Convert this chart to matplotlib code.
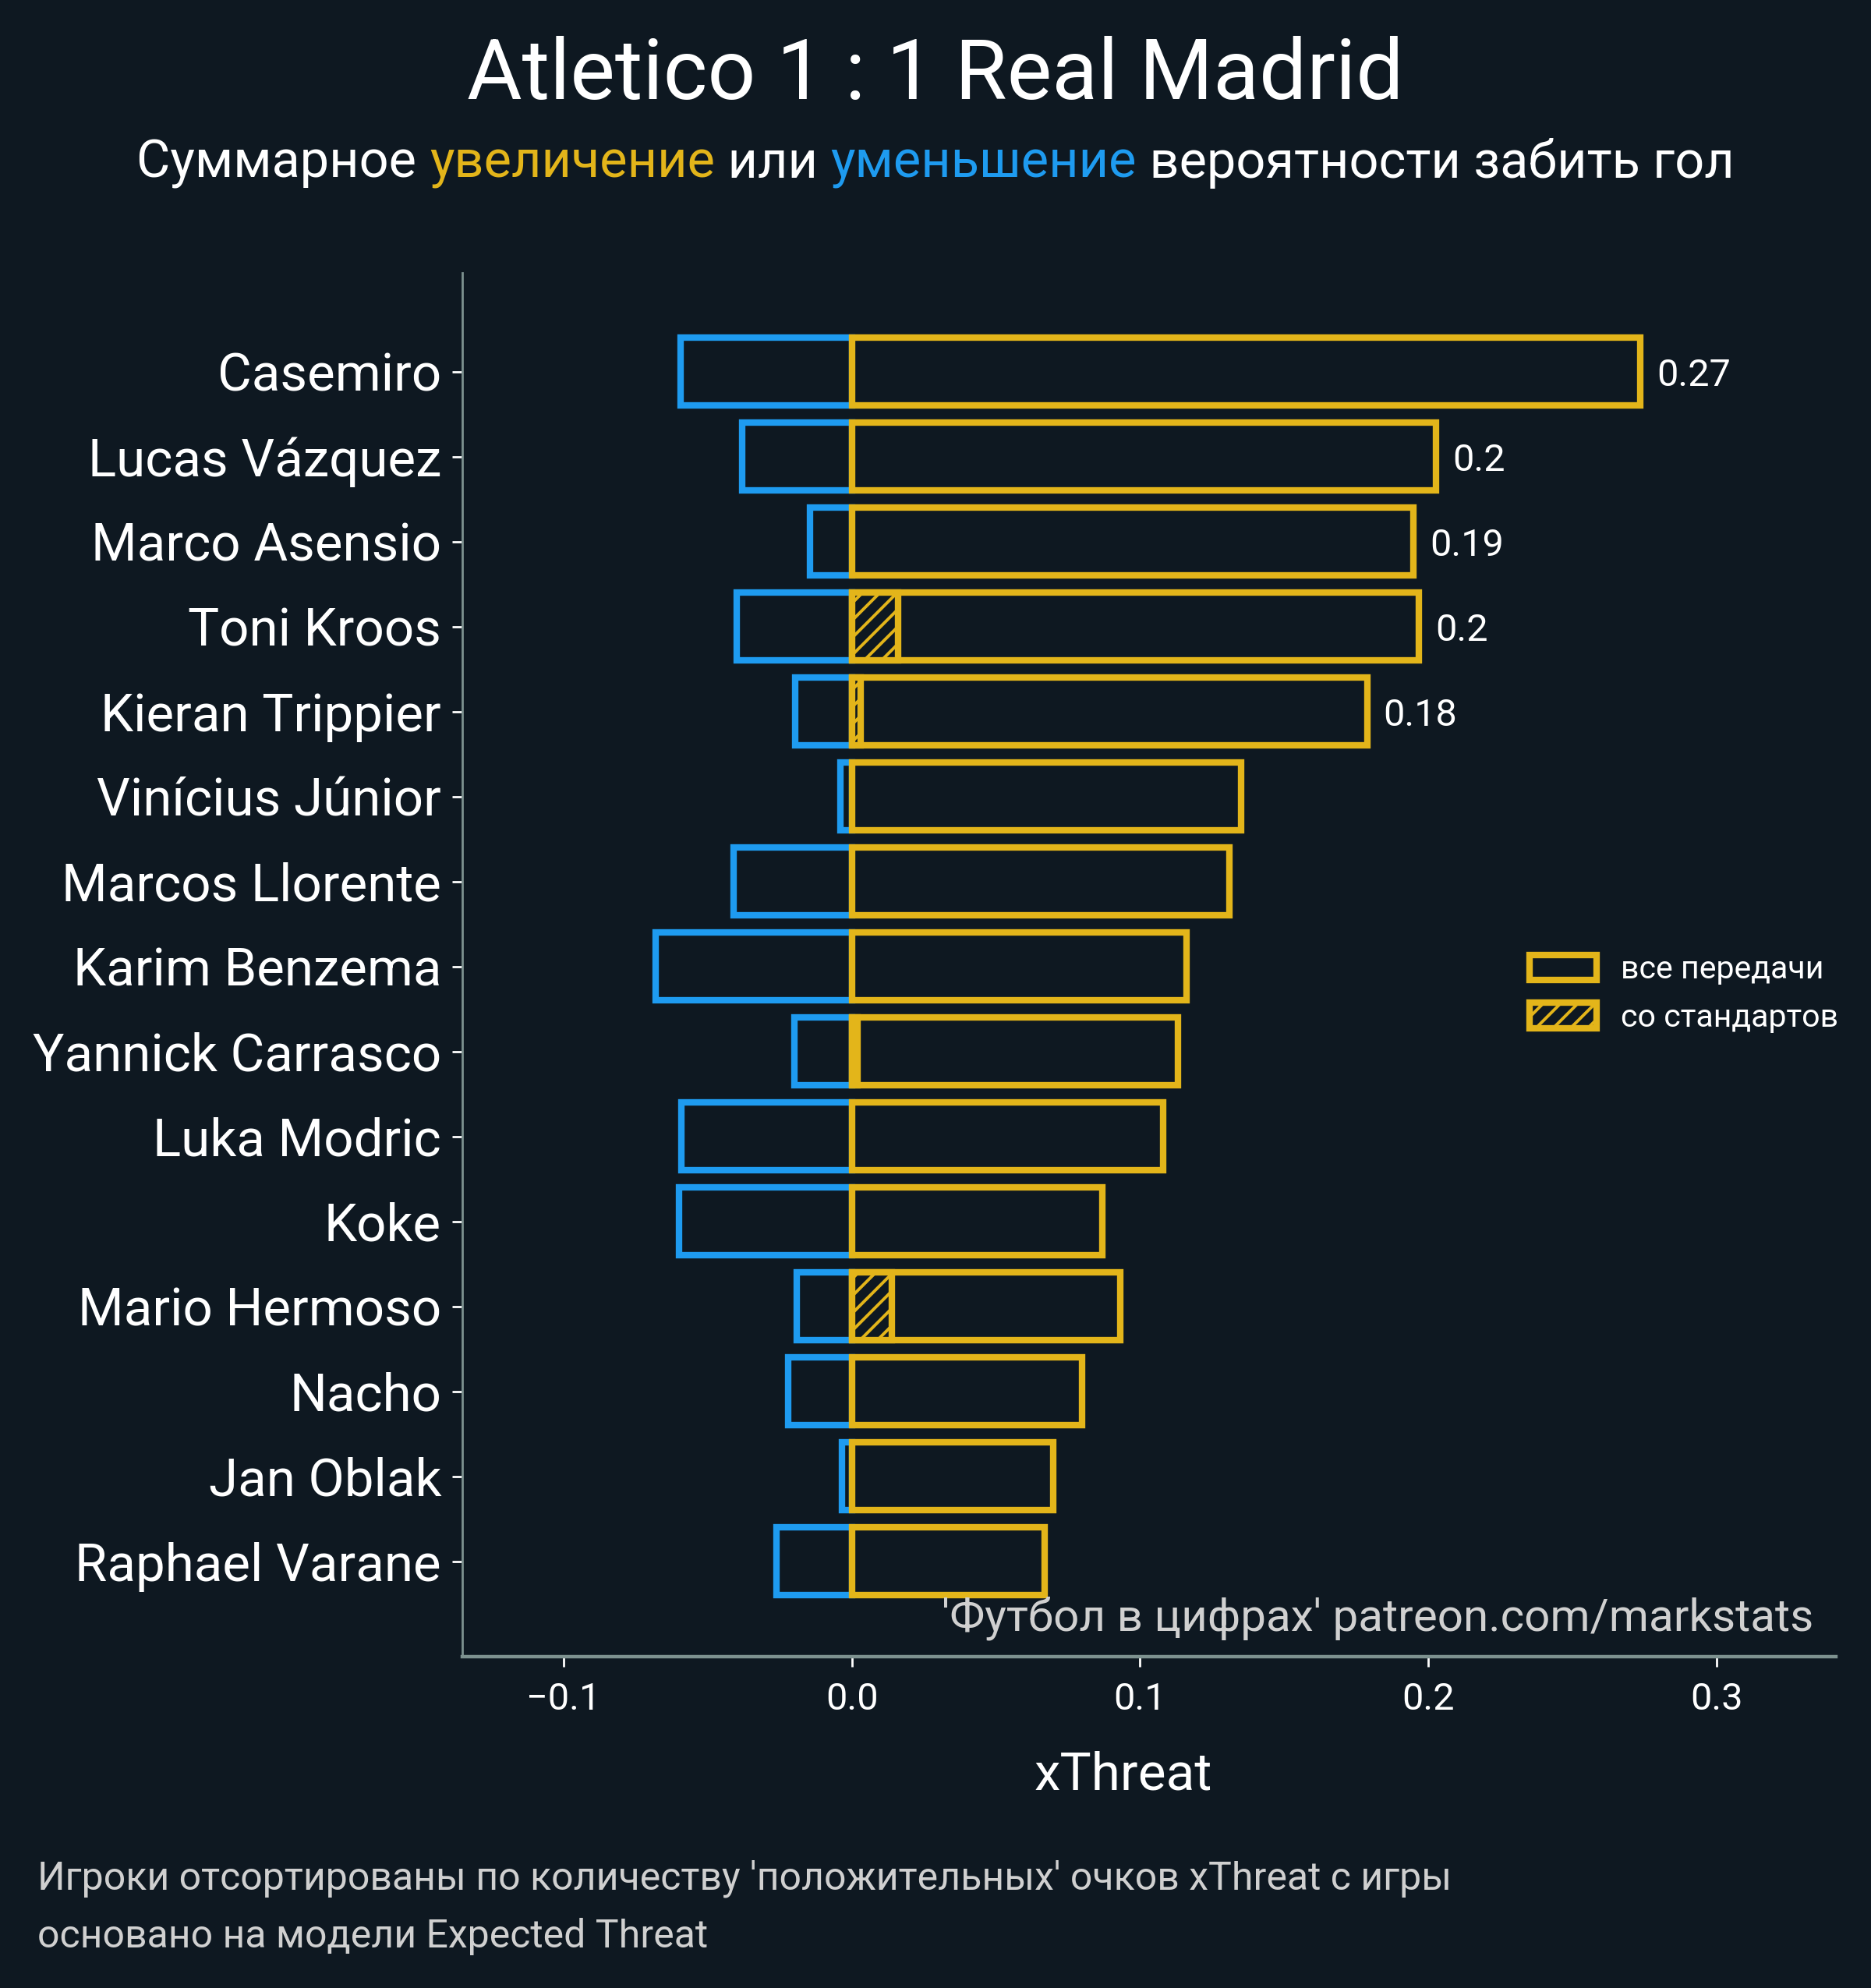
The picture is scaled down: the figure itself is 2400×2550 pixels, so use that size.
import numpy as np
import matplotlib
matplotlib.use("Agg")
import matplotlib.pyplot as plt
from matplotlib.patches import Patch

BG = "#0e1821"
GOLD = "#e3b51a"
BLUE = "#1e9bf0"
SPINE = "#7d918f"
GREY = "#d0d0d0"

players = ["Casemiro", "Lucas Vázquez", "Marco Asensio", "Toni Kroos",
           "Kieran Trippier", "Vinícius Júnior", "Marcos Llorente",
           "Karim Benzema", "Yannick Carrasco", "Luka Modric", "Koke",
           "Mario Hermoso", "Nacho", "Jan Oblak", "Raphael Varane"]
xt_plus = [0.2736, 0.2027, 0.1948, 0.1967, 0.1788, 0.135, 0.131,
           0.116, 0.113, 0.108, 0.087, 0.093, 0.080, 0.070, 0.067]
xt_minus = [-0.0595, -0.0379, -0.0145, -0.0399, -0.0196, -0.004, -0.041,
            -0.068, -0.020, -0.059, -0.060, -0.019, -0.022, -0.0035, -0.026]
xt_setpiece = [0, 0, 0, 0.016, 0.003, 0, 0, 0, 0.002, 0, 0, 0.014, 0, 0, 0]
n_labels = 5

plt.rcParams['font.family'] = ['Roboto', 'DejaVu Sans']
plt.rcParams['hatch.linewidth'] = 1.4

fig = plt.figure(figsize=(12, 12.75), dpi=200, facecolor=BG)
ax = fig.add_axes([0.2471, 0.1667, 0.7342, 0.696])
ax.set_facecolor(BG)

y = np.arange(len(players))
ax.barh(y, xt_minus, height=0.8, color=BG, edgecolor=BLUE, lw=3)
ax.barh(y, xt_plus, height=0.8, color=BG, edgecolor=GOLD, lw=3)
sp = np.array(xt_setpiece)
m = sp > 0
ax.barh(y[m], sp[m], height=0.8, color=BG, edgecolor=GOLD, lw=3, hatch='///')

for i in range(n_labels):
    ax.annotate(str(round(xt_plus[i], 2)), (xt_plus[i], y[i]),
                xytext=(7.5, 0), textcoords='offset points',
                va='center_baseline', ha='left', color='white', fontsize=17.5)

ax.set_yticks(y)
ax.set_yticklabels(players)
ax.set_ylim(len(players) - 1 + 1.12, -1.16)
ax.set_xlim(-0.1351, 0.3414)
ax.set_xticks([-0.1, 0.0, 0.1, 0.2, 0.3])

for s in ['top', 'right']:
    ax.spines[s].set_visible(False)
for s in ['left', 'bottom']:
    ax.spines[s].set_color(SPINE)
ax.spines['left'].set_linewidth(1.0)
ax.spines['bottom'].set_linewidth(1.6)
ax.tick_params(axis='y', colors='white', labelsize=24.2, length=4.7,
               width=1.0, pad=5)
ax.tick_params(axis='x', colors='white', labelsize=17.5, length=4.7,
               width=1.0, pad=7)

ax.text(0.9835, 0.0186, "'Футбол в цифрах' patreon.com/markstats",
        transform=ax.transAxes, ha='right', va='baseline',
        color=GREY, fontsize=21)

handles = [Patch(facecolor=BG, edgecolor=GOLD, lw=3, label='все передачи'),
           Patch(facecolor=BG, edgecolor=GOLD, lw=3, hatch='///',
                 label='со стандартов')]
fig.legend(handles=handles, loc='center left', bbox_to_anchor=(0.8175, 0.5002),
           bbox_transform=fig.transFigure, frameon=False, fontsize=14.8,
           labelcolor='white', borderpad=0, borderaxespad=0,
           handlelength=2.1, handleheight=0.85, handletextpad=0.75,
           labelspacing=0.55)

fig.text(0.6003, 0.100, 'xThreat', ha='center', va='baseline',
         color='white', fontsize=24.3)

fig.text(0.5, 0.9502, 'Atletico 1 : 1 Real Madrid', ha='center',
         va='baseline', color='white', fontsize=39)

# multi-coloured subtitle
parts = [("Суммарное ", 'white'), ("увеличение", GOLD), (" или ", 'white'),
         ("уменьшение", BLUE), (" вероятности забить гол", 'white')]
renderer = fig.canvas.get_renderer()
texts = []
widths = []
for s, c in parts:
    t = fig.text(0, 0.9106, s, color=c, fontsize=24.0, va='baseline', ha='left')
    texts.append(t)
    widths.append(t.get_window_extent(renderer).width / fig.bbox.width)
x0 = 0.5 - sum(widths) / 2
for t, w in zip(texts, widths):
    t.set_x(x0)
    x0 += w

fig.text(0.020, 0.0498,
         "Игроки отсортированы по количеству 'положительных' очков xThreat с игры",
         ha='left', va='baseline', color=GREY, fontsize=18)
fig.text(0.020, 0.0204, "основано на модели Expected Threat",
         ha='left', va='baseline', color=GREY, fontsize=18)

fig.savefig('out.png', dpi=200, facecolor=BG)
